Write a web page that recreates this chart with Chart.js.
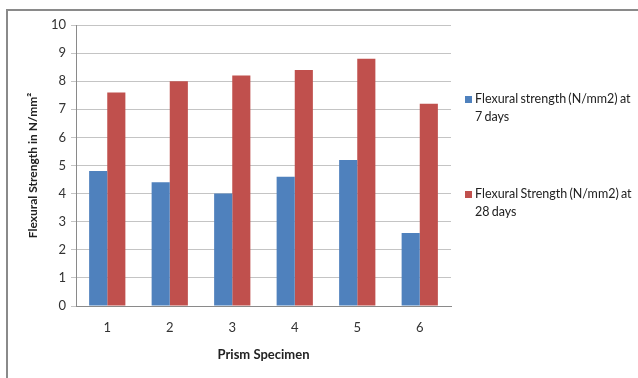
<!DOCTYPE html>
<html>
<head>
<meta charset="utf-8">
<script src="https://cdn.jsdelivr.net/npm/chart.js@4"></script>
<style>
  html, body { margin: 0; padding: 0; background: #fff; }
  #wrap { position: relative; width: 638px; height: 378px; overflow: hidden; }
  #frame { position: absolute; left: 6px; top: 9px; width: 640px; height: 380px;
           border-top: 2px solid #8a8a8a; border-left: 2px solid #8a8a8a; box-sizing: border-box; }
  #legend { position: absolute; left: 465px; top: 0; font-family: Lato, sans-serif; font-size: 12.5px;
            word-spacing: -1px; color: #222; }
  .item { position: absolute; left: 0; width: 170px; line-height: 18px; padding-left: 10px; white-space: nowrap; }
  .box { position: absolute; left: 0; top: 6px; width: 7px; height: 7px; }
</style>
</head>
<body>
<div id="wrap">
  <div id="frame"></div>
  <canvas id="prismChart" width="638" height="378"></canvas>
  <div id="legend"></div>
</div>
<script>
const categories = ['1', '2', '3', '4', '5', '6'];
const strength7 = [4.8, 4.4, 4.0, 4.6, 5.2, 2.6];
const strength28 = [7.6, 8.0, 8.2, 8.4, 8.8, 7.2];
const seriesNames = [
  'Flexural strength (N/mm2) at 7 days',
  'Flexural Strength (N/mm2) at 28 days'
];
const seriesColors = ['#4F81BD', '#C0504D'];
const legendTops = [90, 185];

const ctx = document.getElementById('prismChart').getContext('2d');
const chart = new Chart(ctx, {
  type: 'bar',
  data: {
    labels: categories,
    datasets: [
      { label: seriesNames[0], data: strength7, backgroundColor: seriesColors[0] },
      { label: seriesNames[1], data: strength28, backgroundColor: seriesColors[1] }
    ]
  },
  options: {
    responsive: false,
    animation: false,
    devicePixelRatio: 1,
    layout: { padding: { left: 0, right: 187, top: 25, bottom: 0 } },
    datasets: { bar: { barPercentage: 1, categoryPercentage: 0.58 } },
    plugins: { legend: { display: false }, tooltip: { enabled: false } },
    scales: {
      x: {
        grid: { display: false, drawTicks: false },
        border: { color: '#8a8a8a' },
        ticks: { color: '#333', font: { family: 'Lato', size: 13 }, padding: 14 },
        title: { display: true, text: 'Prism Specimen', color: '#222',
                 font: { family: 'Lato', size: 13, weight: 'bold' }, padding: { top: 0, bottom: 15 } },
        afterFit: s => { s.height = 72; }
      },
      y: {
        min: 0, max: 10,
        ticks: { stepSize: 1, color: '#333', font: { family: 'Lato', size: 13 }, padding: 5 },
        grid: { color: '#c4c4c4', tickLength: 5 },
        border: { color: '#8a8a8a' },
        title: { display: true, text: 'Flexural Strength in N/mm²', color: '#222',
                 font: { family: 'Lato', size: 12, weight: 'bold' }, padding: { top: 26, bottom: 0 } },
        afterFit: s => { s.width = 76; }
      }
    }
  }
});

const legend = document.getElementById('legend');
chart.data.datasets.forEach((ds, i) => {
  const item = document.createElement('div');
  item.className = 'item';
  item.style.top = legendTops[i] + 'px';
  item.innerHTML = '<span class="box" style="background:' + ds.backgroundColor + '"></span>' +
    ds.label.replace(' at ', ' at<br>');
  legend.appendChild(item);
});
</script>
</body>
</html>
